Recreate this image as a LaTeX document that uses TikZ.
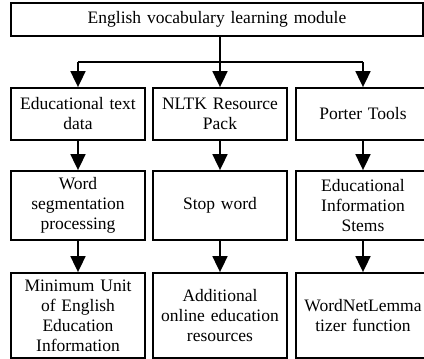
\documentclass[tikz,border=0pt]{standalone}
\usepackage{fontspec}
\setmainfont{Liberation Serif}
\usepackage{tikz}
\usetikzlibrary{arrows.meta}

\begin{document}
\begin{tikzpicture}[x=1pt,y=-1pt]
		\useasboundingbox (0,0) rectangle (424,359);
		\begin{scope}[every node/.style={rectangle,draw,line width=1.8pt,align=center,inner sep=0pt,
		              font=\fontsize{17.5}{20}\selectfont,text width=132pt,minimum width=134pt}]
		    \node[text width=400pt,minimum width=412pt,minimum height=33pt] (module) at (217,19.5) {English vocabulary learning module};
		    \node[minimum height=52pt] (text) at (78,114) {Educational text\\data};
		    \node[minimum height=52pt] (nltk) at (220,114) {NLTK Resource\\Pack};
		    \node[minimum height=52pt] (porter) at (363,114) {Porter Tools};
		    \node[minimum height=69pt] (segment) at (78,205.5) {Word\\segmentation\\processing};
		    \node[minimum height=69pt] (stop) at (220,205.5) {Stop word};
		    \node[minimum height=69pt] (stems) at (363,205.5) {Educational\\Information\\Stems};
		    \node[minimum height=85pt] (unit) at (78,315.5) {Minimum Unit\\of English\\Education\\Information};
		    \node[minimum height=85pt] (online) at (220,315.5) {Additional\\online education\\resources};
		    \node[minimum height=85pt] (lemma) at (363,315.5) {WordNetLemma\\tizer function};
		\end{scope}

		\coordinate (jleft) at (78,62);
		\coordinate (jright) at (363,62);

		\begin{scope}[>={Triangle[length=16pt,width=15pt]},
		              every path/.style={draw=black,line width=1.8pt}]
		    	\path (jleft) -- (jright);
		    	\path[->] (module.south -| nltk) -- (nltk);
		    	\path[->] (jleft) -- (text);
		    	\path[->] (jright) -- (porter);
		    	\path[->] (text) -- (segment);
		    	\path[->] (nltk) -- (stop);
		    	\path[->] (porter) -- (stems);
		    	\path[->] (segment) -- (unit);
		    	\path[->] (stop) -- (online);
		    	\path[->] (stems) -- (lemma);
		\end{scope}
		\end{tikzpicture}
\end{document}
